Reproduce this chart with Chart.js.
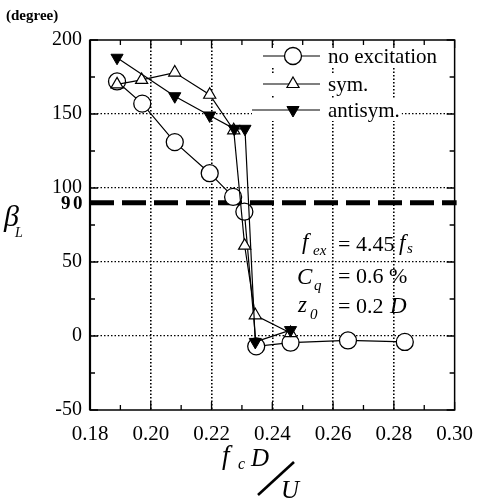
<!DOCTYPE html>
<html>
<head>
<meta charset="utf-8">
<script src="https://cdn.jsdelivr.net/npm/chart.js@4/dist/chart.umd.min.js"></script>
<style>
  html, body { margin: 0; padding: 0; background: #fff; }
  canvas { display: block; }
</style>
</head>
<body>
<canvas id="c" width="485" height="501"></canvas>
<script>
// Phase angle beta_L (degree) against reduced frequency fc*D/U
const xNone = [0.1889, 0.1972, 0.2079, 0.2194, 0.2271, 0.2308, 0.2347, 0.2460, 0.2649, 0.2836];
const yNone = [172, 157, 131, 110, 94, 84, -7, -4.5, -3, -4];

const xSym = [0.1889, 0.1970, 0.2079, 0.2194, 0.2273, 0.2309, 0.2344, 0.2460];
const ySym = [170, 173, 178, 163, 139, 61, 14, 2];

const xAnti = [0.1889, 0.2079, 0.2194, 0.2275, 0.2310, 0.2344, 0.2460];
const yAnti = [188, 162, 149, 140, 140, -4, 4];

const seriesNames = ['no excitation', 'sym.', 'antisym.'];
const xTickLabels = ['0.18', '0.20', '0.22', '0.24', '0.26', '0.28', '0.30'];
const yTickLabels = ['-50', '0', '50', '100', '150', '200'];
const refLevel = 90;

const SERIF = '"Liberation Serif", "Times New Roman", serif';
const toPts = (xs, ys) => xs.map((x, i) => ({ x: x, y: ys[i] }));

const isMajorX = v => Math.round(v * 100) % 2 === 0;
const isMajorY = v => Math.round(v) % 50 === 0;

const whiteBg = {
  id: 'whiteBg',
  beforeDraw(chart) {
    const ctx = chart.ctx;
    ctx.save();
    ctx.fillStyle = '#fff';
    ctx.fillRect(0, 0, chart.width, chart.height);
    ctx.restore();
  }
};

// thick dashed line at the 90 degree level, drawn under the data
const refLine = {
  id: 'refLine',
  beforeDatasetsDraw(chart) {
    const { ctx, chartArea: a, scales } = chart;
    const y = scales.y.getPixelForValue(refLevel);
    ctx.save();
    ctx.strokeStyle = '#000';
    ctx.lineWidth = 5;
    ctx.setLineDash([24, 8]);
    ctx.beginPath();
    ctx.moveTo(a.left, y);
    ctx.lineTo(a.right + 2, y);
    ctx.stroke();
    ctx.setLineDash([]);
    ctx.fillStyle = '#000';
    ctx.font = 'bold 19px ' + SERIF;
    ctx.textAlign = 'left';
    ctx.textBaseline = 'middle';
    ctx.fillText('9', 61, y + 1);
    ctx.fillText('0', 73, y + 1);
    ctx.restore();
  }
};

// frame with inward tick marks on all four sides
const frame = {
  id: 'frame',
  afterDraw(chart) {
    const { ctx, chartArea: a, scales } = chart;
    ctx.save();
    ctx.strokeStyle = '#000';
    ctx.lineWidth = 1.5;
    ctx.strokeRect(a.left, a.top, a.right - a.left, a.bottom - a.top);
    ctx.lineWidth = 2.2;
    ctx.beginPath();
    ctx.moveTo(a.left, a.top);
    ctx.lineTo(a.left, a.bottom);
    ctx.stroke();
    ctx.lineWidth = 1.3;
    scales.x.ticks.forEach(t => {
      const px = scales.x.getPixelForValue(t.value);
      const len = isMajorX(t.value) ? 8 : 5;
      ctx.beginPath();
      ctx.moveTo(px, a.bottom); ctx.lineTo(px, a.bottom - len);
      ctx.moveTo(px, a.top); ctx.lineTo(px, a.top + len);
      ctx.stroke();
    });
    scales.y.ticks.forEach(t => {
      const py = scales.y.getPixelForValue(t.value);
      const len = isMajorY(t.value) ? 8 : 5;
      ctx.beginPath();
      ctx.moveTo(a.left, py); ctx.lineTo(a.left + len, py);
      ctx.moveTo(a.right, py); ctx.lineTo(a.right - len, py);
      ctx.stroke();
    });
    ctx.restore();
  }
};

function drawMarker(ctx, style, rot, r, x, y) {
  if (style === 'circle') {
    ctx.arc(x, y, r, 0, Math.PI * 2);
    return;
  }
  const base = (rot === 180) ? Math.PI / 2 : -Math.PI / 2;
  for (let k = 0; k < 3; k++) {
    const ang = base + k * 2 * Math.PI / 3;
    const px = x + r * Math.cos(ang), py = y + r * Math.sin(ang);
    if (k === 0) ctx.moveTo(px, py); else ctx.lineTo(px, py);
  }
  ctx.closePath();
}

// legend box, parameter block and axis titles
const texts = {
  id: 'texts',
  afterDatasetsDraw(chart) {
    const ctx = chart.ctx;
    const byName = n => chart.data.datasets.find(d => d.label === n);
    ctx.save();
    ctx.fillStyle = '#000';
    ctx.strokeStyle = '#000';

    // legend
    const rows = [
      { y: 56, x0: 263, name: seriesNames[0] },
      { y: 84, x0: 263, name: seriesNames[1] },
      { y: 110, x0: 252, name: seriesNames[2] }
    ];
    ctx.font = '21px ' + SERIF;
    rows.forEach(r => {
      const d = byName(r.name);
      const tw = ctx.measureText(r.name).width;
      ctx.fillStyle = '#fff';
      ctx.fillRect(r.x0, r.y - 11, 328 - r.x0 + tw + 2, 22);
      ctx.strokeStyle = '#000';
      ctx.lineWidth = 1.2;
      ctx.beginPath();
      ctx.moveTo(r.x0, r.y); ctx.lineTo(320, r.y);
      ctx.stroke();
      ctx.fillStyle = d.pointBackgroundColor;
      ctx.lineWidth = d.pointBorderWidth;
      ctx.beginPath();
      drawMarker(ctx, d.pointStyle, d.pointRotation || 0, d.pointRadius, 293, r.y);
      ctx.fill();
      ctx.stroke();
      ctx.fillStyle = '#000';
      ctx.textBaseline = 'middle';
      ctx.textAlign = 'left';
      ctx.fillText(r.name, 328, r.y + 1);
    });

    // parameter block
    ctx.textBaseline = 'alphabetic';
    const it = 'italic 23px ' + SERIF;
    const rm = '22px ' + SERIF;
    const sub = 'italic 15px ' + SERIF;
    ctx.font = it; ctx.fillText('f', 302, 249);
    ctx.font = sub; ctx.fillText('ex', 313, 255);
    ctx.font = rm; ctx.fillText('= 4.45', 338, 251);
    ctx.font = it; ctx.fillText('f', 399, 250);
    ctx.font = sub; ctx.fillText('s', 407, 253);

    ctx.font = it; ctx.fillText('C', 297, 284);
    ctx.font = sub; ctx.fillText('q', 314, 290);
    ctx.font = rm; ctx.fillText('= 0.6 %', 338, 283);

    ctx.font = it; ctx.fillText('z', 298, 312);
    ctx.font = sub; ctx.fillText('0', 310, 319);
    ctx.font = rm; ctx.fillText('= 0.2', 338, 313);
    ctx.font = it; ctx.fillText('D', 390, 313);

    // y title and unit
    ctx.font = 'bold 15px ' + SERIF;
    ctx.fillText('(degree)', 6, 20);
    ctx.font = 'italic 30px ' + SERIF;
    ctx.fillText('\u03B2', 4, 226);
    ctx.font = 'italic 14px ' + SERIF;
    ctx.fillText('L', 15, 237);

    // x title fc D/U
    ctx.font = 'italic 27px ' + SERIF;
    ctx.fillText('f', 222, 464);
    ctx.font = 'italic 16px ' + SERIF;
    ctx.fillText('c', 238, 469);
    ctx.font = 'italic 25px ' + SERIF;
    ctx.fillText('D', 251, 466);
    ctx.fillText('U', 281, 498);
    ctx.lineWidth = 2.6;
    ctx.beginPath();
    ctx.moveTo(258, 495);
    ctx.lineTo(294, 462);
    ctx.stroke();
    ctx.restore();
  }
};

const gridColorX = c => (c.tick && isMajorX(c.tick.value) && c.index > 0 && c.index < c.chart.scales.x.ticks.length - 1) ? '#000' : 'rgba(0,0,0,0)';
const gridColorY = c => (c.tick && isMajorY(c.tick.value) && c.index > 0 && c.index < c.chart.scales.y.ticks.length - 1) ? '#000' : 'rgba(0,0,0,0)';

new Chart(document.getElementById('c'), {
  type: 'scatter',
  data: {
    datasets: [
      {
        label: seriesNames[2], data: toPts(xAnti, yAnti), showLine: true,
        borderColor: '#000', borderWidth: 1.2,
        pointStyle: 'triangle', pointRotation: 180, pointRadius: 7,
        pointBackgroundColor: '#000', pointBorderColor: '#000', pointBorderWidth: 1,
        order: 1
      },
      {
        label: seriesNames[1], data: toPts(xSym, ySym), showLine: true,
        borderColor: '#000', borderWidth: 1.2,
        pointStyle: 'triangle', pointRadius: 7,
        pointBackgroundColor: '#fff', pointBorderColor: '#000', pointBorderWidth: 1.2,
        order: 2
      },
      {
        label: seriesNames[0], data: toPts(xNone, yNone), showLine: true,
        borderColor: '#000', borderWidth: 1.2,
        pointStyle: 'circle', pointRadius: 8.5,
        pointBackgroundColor: '#fff', pointBorderColor: '#000', pointBorderWidth: 1.3,
        order: 3
      }
    ]
  },
  options: {
    responsive: false,
    animation: false,
    events: [],
    layout: { padding: { top: 40, right: 21, left: 0, bottom: 0 } },
    plugins: { legend: { display: false }, tooltip: { enabled: false } },
    scales: {
      x: {
        type: 'linear', min: 0.18, max: 0.30,
        afterFit: s => { s.height = 91; },
        afterBuildTicks: s => {
          s.ticks = [];
          for (let k = 18; k <= 30; k++) s.ticks.push({ value: k / 100 });
        },
        ticks: {
          autoSkip: false, maxRotation: 0, padding: 12, color: '#000',
          font: { family: SERIF, size: 21 },
          callback: v => {
            if (!isMajorX(v)) return '';
            return xTickLabels[Math.round((v - 0.18) * 50)];
          }
        },
        grid: { color: gridColorX, lineWidth: 1.6, drawTicks: false },
        border: { display: false, dash: [1.5, 2] }
      },
      y: {
        type: 'linear', min: -50, max: 200,
        afterFit: s => { s.width = 90; },
        afterBuildTicks: s => {
          s.ticks = [];
          for (let v = -50; v <= 200; v += 25) s.ticks.push({ value: v });
        },
        ticks: {
          autoSkip: false, padding: 8, color: '#000',
          font: { family: SERIF, size: 20 },
          callback: v => isMajorY(v) ? yTickLabels[Math.round((v + 50) / 50)] : ''
        },
        grid: { color: gridColorY, lineWidth: 1.2, drawTicks: false },
        border: { display: false, dash: [1.5, 2] }
      }
    }
  },
  plugins: [whiteBg, refLine, texts, frame]
});
</script>
</body>
</html>
